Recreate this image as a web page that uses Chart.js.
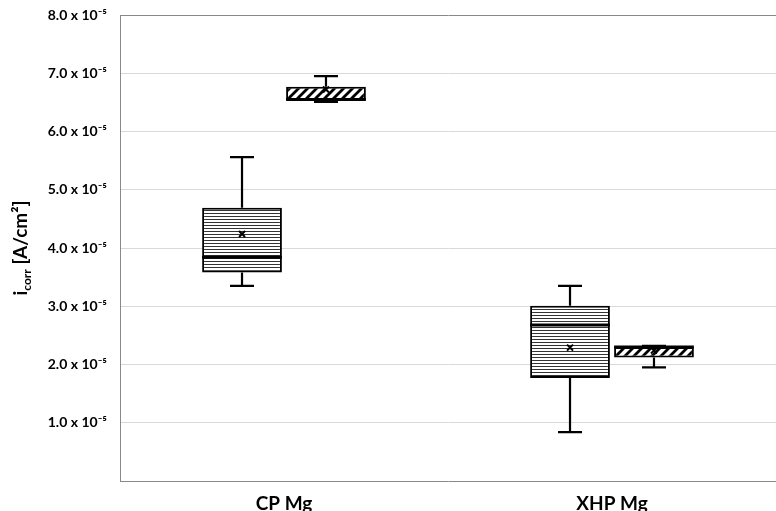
<!DOCTYPE html>
<html>
<head>
<meta charset="utf-8">
<script src="https://cdn.jsdelivr.net/npm/chart.js@4"></script>
<style>
  html,body{margin:0;padding:0;background:#fff;}
  #wrap{width:776px;height:511px;}
</style>
</head>
<body>
<div id="wrap"><canvas id="c" width="776" height="511"></canvas></div>
<script>
// values are in units of 10^-5 A/cm2
const categories = ['CP Mg', 'XHP Mg'];
const yTicks = [1, 2, 3, 4, 5, 6, 7, 8];

// series 1 (horizontal-line fill)
const s1Min  = [3.35, 0.84];
const s1Q1   = [3.58, 1.77];
const s1Med  = [3.84, 2.68];
const s1Q3   = [4.69, 3.01];
const s1Max  = [5.56, 3.35];
const s1Mean = [4.24, 2.29];

// series 2 (diagonal hatch)
const s2Min  = [6.51, 1.95];
const s2Q1   = [6.54, 2.12];
const s2Med  = [6.55, 2.30];
const s2Q3   = [6.77, 2.30];
const s2Max  = [6.95, 2.32];
const s2Mean = [6.72, 2.24];

const stats = [
  {min:s1Min, q1:s1Q1, med:s1Med, q3:s1Q3, max:s1Max, mean:s1Mean},
  {min:s2Min, q1:s2Q1, med:s2Med, q3:s2Q3, max:s2Max, mean:s2Mean}
];

// ------- fill patterns -------
function linePattern(){
  const c = document.createElement('canvas'); c.width = 8; c.height = 3;
  const g = c.getContext('2d');
  g.fillStyle = '#fff'; g.fillRect(0,0,8,3);
  g.fillStyle = '#333'; g.fillRect(0,0,8,1);
  return g.createPattern(c, 'repeat');
}
function hatchPattern(){
  const n = 9;
  const c = document.createElement('canvas'); c.width = n; c.height = n;
  const g = c.getContext('2d');
  g.fillStyle = '#fff'; g.fillRect(0,0,n,n);
  g.strokeStyle = '#000'; g.lineWidth = 2.8;
  g.beginPath();
  g.moveTo(-n/2, n/2); g.lineTo(n/2, -n/2);
  g.moveTo(0, n); g.lineTo(n, 0);
  g.moveTo(n/2, n*1.5); g.lineTo(n*1.5, n/2);
  g.stroke();
  return g.createPattern(c, 'repeat');
}

const FONT = 'Lato, "Open Sans", "DejaVu Sans", sans-serif';

// whiskers, median, mean marker drawn on the library's scales
const boxExtras = {
  id:'boxExtras',
  afterDatasetsDraw(chart){
    const ctx = chart.ctx, y = chart.scales.y;
    chart.data.datasets.forEach((ds, di)=>{
      const meta = chart.getDatasetMeta(di);
      const st = stats[di];
      meta.data.forEach((bar, i)=>{
        const x = bar.x, half = bar.width/2;
        const pMax = y.getPixelForValue(st.max[i]), pQ3 = y.getPixelForValue(st.q3[i]);
        const pMin = y.getPixelForValue(st.min[i]), pQ1 = y.getPixelForValue(st.q1[i]);
        const pMed = y.getPixelForValue(st.med[i]), pMean = y.getPixelForValue(st.mean[i]);
        ctx.save();
        ctx.strokeStyle = '#000';
        ctx.lineWidth = 2.2;
        ctx.beginPath();
        ctx.moveTo(x, pQ3); ctx.lineTo(x, pMax);
        ctx.moveTo(x-12, pMax); ctx.lineTo(x+12, pMax);
        ctx.moveTo(x, pQ1); ctx.lineTo(x, pMin);
        ctx.moveTo(x-12, pMin); ctx.lineTo(x+12, pMin);
        ctx.stroke();
        ctx.lineWidth = 3;
        ctx.beginPath();
        ctx.moveTo(x-half, pMed); ctx.lineTo(x+half, pMed);
        ctx.stroke();
        // mean cross
        ctx.lineWidth = 2;
        ctx.beginPath();
        ctx.moveTo(x-3, pMean-3); ctx.lineTo(x+3, pMean+3);
        ctx.moveTo(x+3, pMean-3); ctx.lineTo(x-3, pMean+3);
        ctx.stroke();
        ctx.restore();
      });
    });
  },
  afterDraw(chart){
    // y axis title with subscript
    const ctx = chart.ctx;
    const parts = [
      {t:'i', f:'bold 19px '+FONT, dy:0},
      {t:'corr', f:'bold 12px '+FONT, dy:4},
      {t:' [A/cm\u00B2]', f:'bold 19px '+FONT, dy:0}
    ];
    ctx.save();
    ctx.translate(27, 248);
    ctx.rotate(-Math.PI/2);
    ctx.fillStyle = '#000';
    ctx.textBaseline = 'alphabetic';
    let total = 0;
    parts.forEach(p=>{ ctx.font = p.f; p.w = ctx.measureText(p.t).width; total += p.w; });
    let cx = -total/2;
    parts.forEach(p=>{ ctx.font = p.f; ctx.fillText(p.t, cx, p.dy); cx += p.w; });
    ctx.restore();
  }
};

new Chart(document.getElementById('c'), {
  type:'bar',
  data:{
    labels:categories,
    datasets:[
      {label:'Series 1', data:categories.map((_,i)=>[s1Q1[i], s1Q3[i]]),
       backgroundColor:linePattern(), borderColor:'#000', borderWidth:2, borderSkipped:false},
      {label:'Series 2', data:categories.map((_,i)=>[s2Q1[i], s2Q3[i]]),
       backgroundColor:hatchPattern(), borderColor:'#000', borderWidth:2, borderSkipped:false}
    ]
  },
  options:{
    responsive:false, animation:false,
    categoryPercentage:0.512, barPercentage:0.95,
    layout:{padding:{top:15, right:0, left:0, bottom:0}},
    plugins:{legend:{display:false}, tooltip:{enabled:false}},
    scales:{
      x:{
        grid:{display:false},
        border:{color:'#898989', width:1},
        ticks:{color:'#000', font:{family:FONT, size:19, weight:'bold'}, padding:3},
        afterFit(s){ s.height = 30; }
      },
      y:{
        min:0, max:8,
        afterBuildTicks(s){ s.ticks = [0].concat(yTicks).map(v=>({value:v})); },
        grid:{drawTicks:false, color:c=>c.tick.value===8 ? '#898989' : (c.tick.value===0 ? 'rgba(0,0,0,0)' : '#d9d9d9')},
        border:{color:'#898989', width:1},
        ticks:{
          color:'#000', padding:13,
          font:{family:FONT, size:14, weight:'bold'},
          callback:v=> v===0 ? '' : v.toFixed(1)+' x 10\u207B\u2075'
        },
        afterFit(s){ s.width = 120; s.paddingTop = 0; s.paddingBottom = 0; }
      }
    }
  },
  plugins:[boxExtras]
});
</script>
</body>
</html>
